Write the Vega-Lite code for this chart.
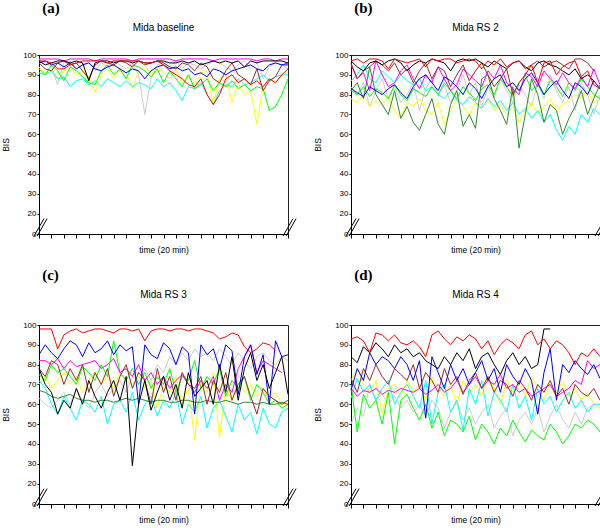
{
"$schema": "https://vega.github.io/schema/vega-lite/v6.json",
"padding": {"left": 1, "top": 0, "right": 2, "bottom": 0},
"config": {
 "font": "Liberation Sans",
 "view": {"stroke": "#222", "strokeWidth": 1},
 "axis": {"grid": false, "domainColor": "#000", "tickColor": "#000", "labelColor": "#000", "titleColor": "#000", "titleFontWeight": "normal", "titleFontSize": 8.5, "labelFontSize": 8, "titleFont": "Liberation Sans", "labelFont": "Liberation Sans", "labelOverlap": false},
 "title": {"fontSize": 10, "fontWeight": "normal", "color": "#000", "font": "Liberation Sans"}
},
"datasets": {
"a": [
{"t":0,"r":97,"k":97,"b":96,"m":98,"y":94,"c":91,"g":93,"n":96,"e":98},
{"t":1,"r":97,"k":95,"b":97,"m":98,"y":91,"c":90,"g":90,"n":93,"e":96},
{"t":2,"r":96,"k":96,"b":95,"m":98,"y":93,"c":92,"g":95,"n":92,"e":94},
{"t":3,"r":93,"k":97,"b":96,"m":98,"y":88,"c":88,"g":92,"n":96,"e":85},
{"t":4,"r":93,"k":97,"b":94,"m":97,"y":92,"c":89,"g":87,"n":97,"e":96},
{"t":5,"r":95,"k":96,"b":96,"m":98,"y":94,"c":84,"g":94,"n":95,"e":97},
{"t":6,"r":96,"k":97,"b":93,"m":98,"y":90,"c":87,"g":92,"n":96,"e":93},
{"t":7,"r":97,"k":96,"b":95,"m":98,"y":92,"c":88,"g":89,"n":92,"e":95},
{"t":8,"r":97,"k":87,"b":96,"m":98,"y":89,"c":85,"g":86,"n":88,"e":97},
{"t":9,"r":97,"k":96,"b":93,"m":97,"y":81,"c":87,"g":85,"n":95,"e":92},
{"t":10,"r":97,"k":97,"b":92,"m":98,"y":90,"c":84,"g":92,"n":97,"e":96},
{"t":11,"r":96,"k":97,"b":94,"m":98,"y":93,"c":88,"g":95,"n":96,"e":94},
{"t":12,"r":97,"k":96,"b":95,"m":98,"y":88,"c":86,"g":90,"n":95,"e":97},
{"t":13,"r":97,"k":97,"b":93,"m":98,"y":94,"c":84,"g":93,"n":97,"e":95},
{"t":14,"r":97,"k":97,"b":91,"m":98,"y":91,"c":87,"g":88,"n":96,"e":93},
{"t":15,"r":97,"k":96,"b":93,"m":97,"y":83,"c":84,"g":95,"n":94,"e":96},
{"t":16,"r":97,"k":97,"b":92,"m":98,"y":92,"c":86,"g":94,"n":97,"e":90},
{"t":17,"r":96,"k":96,"b":88,"m":98,"y":95,"c":85,"g":92,"n":95,"e":70},
{"t":18,"r":96,"k":96,"b":92,"m":98,"y":90,"c":83,"g":89,"n":96,"e":88},
{"t":19,"r":97,"k":97,"b":94,"m":98,"y":94,"c":88,"g":93,"n":97,"e":95},
{"t":20,"r":95,"k":97,"b":95,"m":98,"y":91,"c":84,"g":86,"n":96,"e":96},
{"t":21,"r":92,"k":96,"b":93,"m":98,"y":88,"c":86,"g":92,"n":94,"e":94},
{"t":22,"r":90,"k":96,"b":94,"m":97,"y":93,"c":82,"g":88,"n":93,"e":97},
{"t":23,"r":88,"k":97,"b":92,"m":98,"y":86,"c":77,"g":84,"n":96,"e":93},
{"t":24,"r":85,"k":96,"b":93,"m":98,"y":90,"c":84,"g":90,"n":95,"e":96},
{"t":25,"r":84,"k":97,"b":90,"m":98,"y":84,"c":83,"g":83,"n":92,"e":95},
{"t":26,"r":88,"k":95,"b":91,"m":98,"y":91,"c":86,"g":85,"n":96,"e":93},
{"t":27,"r":80,"k":96,"b":89,"m":98,"y":92,"c":80,"g":88,"n":94,"e":95},
{"t":28,"r":75,"k":97,"b":93,"m":97,"y":75,"c":75,"g":82,"n":88,"e":97},
{"t":29,"r":80,"k":96,"b":92,"m":98,"y":88,"c":82,"g":86,"n":86,"e":96},
{"t":30,"r":88,"k":97,"b":90,"m":98,"y":90,"c":85,"g":84,"n":92,"e":94},
{"t":31,"r":90,"k":96,"b":92,"m":98,"y":76,"c":84,"g":87,"n":96,"e":92},
{"t":32,"r":86,"k":97,"b":93,"m":98,"y":86,"c":88,"g":83,"n":90,"e":95},
{"t":33,"r":88,"k":94,"b":94,"m":98,"y":80,"c":85,"g":85,"n":88,"e":97},
{"t":34,"r":85,"k":97,"b":95,"m":98,"y":82,"c":86,"g":82,"n":85,"e":93},
{"t":35,"r":87,"k":96,"b":93,"m":97,"y":65,"c":88,"g":84,"n":93,"e":96},
{"t":36,"r":84,"k":97,"b":92,"m":98,"y":84,"c":90,"g":83,"n":82,"e":88},
{"t":37,"r":88,"k":97,"b":95,"m":98,"y":88,"c":87,"g":72,"n":87,"e":94},
{"t":38,"r":86,"k":97,"b":96,"m":97,"y":86,"c":89,"g":74,"n":89,"e":96},
{"t":39,"r":90,"k":97,"b":95,"m":98,"y":90,"c":90,"g":80,"n":95,"e":95},
{"t":40,"r":93,"k":96,"b":95,"m":98,"y":91,"c":90,"g":88,"n":96,"e":93}
],
"b": [
{"t":0,"r":97,"k":97,"b":83,"m":95,"y":78,"c":87,"g":82,"d":82,"n":96,"e":84},
{"t":1,"r":98,"k":94,"b":81,"m":88,"y":76,"c":90,"g":80,"d":86,"n":88,"e":80},
{"t":2,"r":96,"k":92,"b":79,"m":91,"y":80,"c":95,"g":84,"d":78,"n":92,"e":86},
{"t":3,"r":98,"k":96,"b":84,"m":82,"y":74,"c":88,"g":79,"d":94,"n":94,"e":74},
{"t":4,"r":98,"k":97,"b":82,"m":97,"y":77,"c":86,"g":83,"d":80,"n":97,"e":82},
{"t":5,"r":97,"k":95,"b":80,"m":90,"y":75,"c":92,"g":81,"d":75,"n":95,"e":88},
{"t":6,"r":93,"k":97,"b":83,"m":84,"y":79,"c":89,"g":78,"d":70,"n":92,"e":78},
{"t":7,"r":98,"k":98,"b":85,"m":86,"y":72,"c":86,"g":85,"d":82,"n":96,"e":84},
{"t":8,"r":97,"k":96,"b":81,"m":92,"y":68,"c":90,"g":80,"d":68,"n":90,"e":76},
{"t":9,"r":96,"k":92,"b":78,"m":95,"y":76,"c":87,"g":77,"d":74,"n":93,"e":80},
{"t":10,"r":97,"k":95,"b":84,"m":88,"y":74,"c":85,"g":83,"d":66,"n":86,"e":86},
{"t":11,"r":98,"k":97,"b":88,"m":83,"y":78,"c":88,"g":81,"d":62,"n":92,"e":72},
{"t":12,"r":94,"k":96,"b":90,"m":90,"y":72,"c":82,"g":79,"d":70,"n":96,"e":83},
{"t":13,"r":98,"k":98,"b":86,"m":86,"y":70,"c":84,"g":84,"d":78,"n":88,"e":88},
{"t":14,"r":97,"k":97,"b":82,"m":94,"y":76,"c":80,"g":80,"d":65,"n":94,"e":79},
{"t":15,"r":98,"k":96,"b":89,"m":88,"y":65,"c":78,"g":86,"d":60,"n":92,"e":85},
{"t":16,"r":98,"k":92,"b":87,"m":82,"y":72,"c":82,"g":82,"d":75,"n":84,"e":76},
{"t":17,"r":96,"k":97,"b":84,"m":85,"y":78,"c":77,"g":78,"d":82,"n":90,"e":82},
{"t":18,"r":97,"k":98,"b":80,"m":93,"y":74,"c":75,"g":84,"d":64,"n":95,"e":90},
{"t":19,"r":98,"k":97,"b":86,"m":90,"y":70,"c":79,"g":81,"d":70,"n":87,"e":80},
{"t":20,"r":97,"k":98,"b":83,"m":87,"y":76,"c":76,"g":77,"d":63,"n":92,"e":86},
{"t":21,"r":93,"k":96,"b":78,"m":84,"y":73,"c":73,"g":83,"d":88,"n":96,"e":74},
{"t":22,"r":97,"k":94,"b":84,"m":92,"y":78,"c":78,"g":85,"d":90,"n":90,"e":84},
{"t":23,"r":95,"k":97,"b":88,"m":88,"y":72,"c":74,"g":80,"d":78,"n":84,"e":78},
{"t":24,"r":98,"k":95,"b":90,"m":95,"y":75,"c":77,"g":88,"d":72,"n":88,"e":88},
{"t":25,"r":94,"k":93,"b":84,"m":86,"y":70,"c":72,"g":84,"d":65,"n":93,"e":82},
{"t":26,"r":96,"k":96,"b":86,"m":83,"y":74,"c":76,"g":79,"d":84,"n":80,"e":76},
{"t":27,"r":97,"k":97,"b":82,"m":80,"y":66,"c":70,"g":86,"d":53,"n":86,"e":85},
{"t":28,"r":93,"k":94,"b":88,"m":91,"y":72,"c":73,"g":90,"d":70,"n":90,"e":80},
{"t":29,"r":95,"k":92,"b":91,"m":89,"y":76,"c":68,"g":82,"d":88,"n":95,"e":74},
{"t":30,"r":86,"k":96,"b":86,"m":84,"y":70,"c":72,"g":85,"d":80,"n":97,"e":86},
{"t":31,"r":96,"k":97,"b":80,"m":92,"y":74,"c":66,"g":80,"d":66,"n":94,"e":78},
{"t":32,"r":97,"k":95,"b":84,"m":88,"y":78,"c":70,"g":87,"d":75,"n":96,"e":90},
{"t":33,"r":90,"k":94,"b":87,"m":85,"y":72,"c":62,"g":84,"d":72,"n":97,"e":82},
{"t":34,"r":94,"k":92,"b":82,"m":91,"y":75,"c":57,"g":79,"d":60,"n":95,"e":76},
{"t":35,"r":96,"k":90,"b":78,"m":86,"y":77,"c":64,"g":86,"d":68,"n":93,"e":84},
{"t":36,"r":97,"k":93,"b":86,"m":83,"y":80,"c":60,"g":82,"d":74,"n":98,"e":72},
{"t":37,"r":89,"k":88,"b":84,"m":89,"y":78,"c":70,"g":88,"d":82,"n":98,"e":86},
{"t":38,"r":92,"k":90,"b":80,"m":84,"y":82,"c":66,"g":84,"d":70,"n":96,"e":80},
{"t":39,"r":85,"k":87,"b":87,"m":93,"y":76,"c":73,"g":80,"d":78,"n":92,"e":70},
{"t":40,"r":83,"k":null,"b":83,"m":85,"y":78,"c":70,"g":78,"d":85,"n":null,"e":80}
],
"c": [
{"t":0,"r":98,"k":78,"b":85,"m":82,"y":70,"c":72,"g":75,"d":67,"n":78,"e":63},
{"t":1,"r":98,"k":70,"b":90,"m":82,"y":74,"c":68,"g":72,"d":66,"n":74,"e":60},
{"t":2,"r":98,"k":66,"b":86,"m":80,"y":68,"c":60,"g":80,"d":64,"n":82,"e":58},
{"t":3,"r":88,"k":55,"b":83,"m":83,"y":72,"c":55,"g":76,"d":63,"n":80,"e":62},
{"t":4,"r":95,"k":62,"b":88,"m":78,"y":76,"c":64,"g":78,"d":64,"n":70,"e":66},
{"t":5,"r":97,"k":58,"b":92,"m":82,"y":70,"c":58,"g":74,"d":65,"n":78,"e":60},
{"t":6,"r":98,"k":68,"b":90,"m":79,"y":74,"c":52,"g":70,"d":63,"n":72,"e":68},
{"t":7,"r":96,"k":60,"b":84,"m":80,"y":66,"c":62,"g":79,"d":62,"n":80,"e":62},
{"t":8,"r":97,"k":72,"b":91,"m":81,"y":72,"c":60,"g":76,"d":62,"n":66,"e":58},
{"t":9,"r":98,"k":64,"b":86,"m":82,"y":76,"c":56,"g":72,"d":61,"n":76,"e":66},
{"t":10,"r":98,"k":58,"b":88,"m":78,"y":70,"c":64,"g":80,"d":62,"n":70,"e":70},
{"t":11,"r":97,"k":66,"b":92,"m":80,"y":74,"c":50,"g":74,"d":62,"n":78,"e":64},
{"t":12,"r":96,"k":72,"b":85,"m":83,"y":68,"c":60,"g":92,"d":61,"n":64,"e":68},
{"t":13,"r":98,"k":62,"b":90,"m":76,"y":76,"c":62,"g":76,"d":62,"n":74,"e":72},
{"t":14,"r":98,"k":74,"b":87,"m":78,"y":72,"c":56,"g":72,"d":63,"n":80,"e":66},
{"t":15,"r":97,"k":29,"b":89,"m":74,"y":70,"c":66,"g":78,"d":62,"n":68,"e":74},
{"t":16,"r":98,"k":60,"b":60,"m":80,"y":74,"c":52,"g":70,"d":63,"n":76,"e":70},
{"t":17,"r":92,"k":72,"b":90,"m":72,"y":68,"c":60,"g":76,"d":62,"n":72,"e":78},
{"t":18,"r":97,"k":57,"b":85,"m":76,"y":72,"c":64,"g":68,"d":61,"n":60,"e":72},
{"t":19,"r":98,"k":66,"b":83,"m":70,"y":58,"c":54,"g":74,"d":62,"n":78,"e":80},
{"t":20,"r":98,"k":74,"b":91,"m":74,"y":70,"c":62,"g":70,"d":62,"n":66,"e":76},
{"t":21,"r":97,"k":62,"b":88,"m":68,"y":66,"c":58,"g":78,"d":61,"n":74,"e":84},
{"t":22,"r":98,"k":70,"b":80,"m":72,"y":74,"c":66,"g":66,"d":61,"n":62,"e":80},
{"t":23,"r":98,"k":58,"b":89,"m":75,"y":60,"c":50,"g":74,"d":62,"n":76,"e":86},
{"t":24,"r":97,"k":76,"b":86,"m":70,"y":68,"c":60,"g":72,"d":62,"n":70,"e":82},
{"t":25,"r":98,"k":64,"b":55,"m":66,"y":42,"c":56,"g":82,"d":61,"n":68,"e":88},
{"t":26,"r":98,"k":68,"b":90,"m":72,"y":72,"c":64,"g":68,"d":61,"n":74,"e":84},
{"t":27,"r":97,"k":72,"b":85,"m":68,"y":66,"c":48,"g":74,"d":62,"n":60,"e":86},
{"t":28,"r":96,"k":60,"b":88,"m":74,"y":76,"c":58,"g":70,"d":61,"n":72,"e":82},
{"t":29,"r":93,"k":80,"b":78,"m":62,"y":43,"c":62,"g":78,"d":61,"n":66,"e":88},
{"t":30,"r":94,"k":66,"b":90,"m":70,"y":68,"c":54,"g":64,"d":62,"n":76,"e":84},
{"t":31,"r":96,"k":84,"b":87,"m":66,"y":62,"c":46,"g":72,"d":61,"n":62,"e":80},
{"t":32,"r":95,"k":62,"b":65,"m":78,"y":72,"c":60,"g":68,"d":60,"n":70,"e":86},
{"t":33,"r":89,"k":78,"b":84,"m":84,"y":66,"c":52,"g":74,"d":61,"n":74,"e":82},
{"t":34,"r":86,"k":86,"b":90,"m":90,"y":70,"c":56,"g":62,"d":61,"n":64,"e":78},
{"t":35,"r":88,"k":72,"b":75,"m":76,"y":64,"c":45,"g":70,"d":60,"n":55,"e":84},
{"t":36,"r":91,"k":80,"b":85,"m":82,"y":68,"c":58,"g":66,"d":61,"n":68,"e":86},
{"t":37,"r":90,"k":68,"b":60,"m":80,"y":62,"c":50,"g":60,"d":60,"n":64,"e":82},
{"t":38,"r":87,"k":76,"b":92,"m":78,"y":66,"c":48,"g":62,"d":60,"n":62,"e":80},
{"t":39,"r":null,"k":84,"b":84,"m":76,"y":60,"c":56,"g":58,"d":61,"n":60,"e":84},
{"t":40,"r":null,"k":65,"b":85,"m":null,"y":60,"c":58,"g":60,"d":60,"n":62,"e":82}
],
"d": [
{"t":0,"r":93,"k":84,"b":67,"m":68,"y":72,"c":63,"g":70,"n":73,"e":50},
{"t":1,"r":94,"k":81,"b":78,"m":64,"y":78,"c":73,"g":46,"n":66,"e":58},
{"t":2,"r":92,"k":89,"b":72,"m":67,"y":70,"c":66,"g":65,"n":78,"e":54},
{"t":3,"r":86,"k":86,"b":86,"m":66,"y":66,"c":70,"g":58,"n":72,"e":70},
{"t":4,"r":96,"k":91,"b":80,"m":68,"y":72,"c":62,"g":62,"n":80,"e":62},
{"t":5,"r":95,"k":88,"b":84,"m":65,"y":55,"c":68,"g":50,"n":74,"e":65},
{"t":6,"r":92,"k":84,"b":82,"m":67,"y":68,"c":72,"g":66,"n":70,"e":60},
{"t":7,"r":95,"k":90,"b":78,"m":66,"y":70,"c":60,"g":40,"n":78,"e":64},
{"t":8,"r":91,"k":86,"b":84,"m":68,"y":64,"c":66,"g":62,"n":75,"e":58},
{"t":9,"r":90,"k":88,"b":80,"m":67,"y":72,"c":70,"g":65,"n":72,"e":62},
{"t":10,"r":92,"k":84,"b":72,"m":66,"y":66,"c":64,"g":58,"n":80,"e":56},
{"t":11,"r":89,"k":86,"b":82,"m":68,"y":70,"c":58,"g":52,"n":68,"e":60},
{"t":12,"r":84,"k":82,"b":53,"m":65,"y":62,"c":72,"g":60,"n":76,"e":54},
{"t":13,"r":95,"k":80,"b":84,"m":67,"y":74,"c":50,"g":48,"n":72,"e":62},
{"t":14,"r":97,"k":78,"b":76,"m":70,"y":68,"c":66,"g":56,"n":66,"e":58},
{"t":15,"r":93,"k":84,"b":68,"m":66,"y":64,"c":70,"g":44,"n":78,"e":48},
{"t":16,"r":90,"k":80,"b":80,"m":68,"y":70,"c":56,"g":52,"n":70,"e":56},
{"t":17,"r":94,"k":86,"b":72,"m":72,"y":60,"c":62,"g":50,"n":74,"e":62},
{"t":18,"r":92,"k":82,"b":78,"m":66,"y":72,"c":47,"g":46,"n":65,"e":52},
{"t":19,"r":95,"k":88,"b":70,"m":70,"y":66,"c":68,"g":54,"n":72,"e":58},
{"t":20,"r":93,"k":78,"b":76,"m":74,"y":70,"c":60,"g":42,"n":76,"e":50},
{"t":21,"r":88,"k":84,"b":82,"m":68,"y":64,"c":72,"g":50,"n":68,"e":56},
{"t":22,"r":92,"k":86,"b":72,"m":72,"y":74,"c":54,"g":46,"n":74,"e":60},
{"t":23,"r":85,"k":80,"b":78,"m":70,"y":68,"c":66,"g":40,"n":66,"e":48},
{"t":24,"r":90,"k":75,"b":66,"m":75,"y":60,"c":62,"g":48,"n":72,"e":54},
{"t":25,"r":93,"k":82,"b":80,"m":68,"y":72,"c":56,"g":44,"n":70,"e":58},
{"t":26,"r":91,"k":86,"b":74,"m":70,"y":66,"c":70,"g":52,"n":64,"e":44},
{"t":27,"r":88,"k":80,"b":70,"m":66,"y":70,"c":58,"g":46,"n":72,"e":52},
{"t":28,"r":95,"k":84,"b":78,"m":68,"y":64,"c":64,"g":41,"n":68,"e":56},
{"t":29,"r":97,"k":78,"b":72,"m":64,"y":74,"c":52,"g":47,"n":62,"e":50},
{"t":30,"r":90,"k":80,"b":55,"m":66,"y":68,"c":68,"g":44,"n":70,"e":58},
{"t":31,"r":93,"k":98,"b":76,"m":68,"y":62,"c":60,"g":42,"n":66,"e":46},
{"t":32,"r":88,"k":98,"b":88,"m":70,"y":70,"c":64,"g":50,"n":72,"e":54},
{"t":33,"r":92,"k":null,"b":62,"m":64,"y":66,"c":56,"g":46,"n":64,"e":60},
{"t":34,"r":90,"k":null,"b":80,"m":66,"y":72,"c":62,"g":40,"n":68,"e":52},
{"t":35,"r":86,"k":null,"b":76,"m":68,"y":64,"c":66,"g":44,"n":60,"e":48},
{"t":36,"r":80,"k":null,"b":82,"m":72,"y":68,"c":58,"g":50,"n":70,"e":56},
{"t":37,"r":86,"k":null,"b":78,"m":70,"y":62,"c":62,"g":48,"n":66,"e":50},
{"t":38,"r":84,"k":null,"b":75,"m":82,"y":66,"c":56,"g":52,"n":64,"e":58},
{"t":39,"r":88,"k":null,"b":80,"m":78,"y":60,"c":60,"g":50,"n":68,"e":60},
{"t":40,"r":84,"k":null,"b":73,"m":80,"y":58,"c":60,"g":46,"n":62,"e":58}
]
},
"spacing": 12,
"vconcat": [
{"spacing": 15, "hconcat": [
 {"title": {"text": "(a)", "anchor": "start", "dx": 41, "offset": 7, "font": "Liberation Serif", "fontSize": 15, "fontWeight": "bold"},
  "vconcat": [{
   "title": {"text": "Mida baseline", "offset": 18},
   "width": 249, "height": 179,
   "layer": [
    {"data": {"name": "a"}, "transform": [{"fold": ["e","y","c","g","d","m","n","b","k","r"], "as": ["s","v"]}],
     "mark": {"type": "line", "strokeWidth": 1},
     "encoding": {
      "x": {"field": "t", "type": "quantitative", "scale": {"domain": [0, 40], "nice": false, "zero": false}, "axis": {"title": "time (20 min)", "values": [0,2,4,6,8,10,12,14,16,18,20,22,24,26,28,30,32,34,36,38,40], "tickCount": 21, "labels": false, "tickSize": 4, "titlePadding": 7}},
      "y": {"field": "v", "type": "quantitative", "scale": {"domain": [0, 20, 100], "range": [179, 158.5, 0], "nice": false, "zero": false}, "axis": {"title": "BIS", "values": [0,20,30,40,50,60,70,80,90,100], "tickCount": 10, "labelOverlap": false, "tickSize": 2, "labelPadding": 1, "titlePadding": 12}},
      "color": {"field": "s", "type": "nominal", "legend": null, "scale": {"domain": ["r","k","b","m","y","c","g","d","n","e"], "range": ["#ff0000","#000000","#0000ff","#ff00ff","#ffff00","#00ffff","#00ff00","#2e8b2e","#9b2b2b","#cccccc"]}}
     }},
    {"data": {"values": [{}]}, "mark": {"type": "rule", "color": "#000"}, "encoding": {"x": {"datum": -0.8}, "x2": {"datum": 0.8}, "y": {"datum": -2}, "y2": {"datum": 15}}},
    {"data": {"values": [{}]}, "mark": {"type": "rule", "color": "#000"}, "encoding": {"x": {"datum": -0.3}, "x2": {"datum": 1.3}, "y": {"datum": -2}, "y2": {"datum": 15}}},
    {"data": {"values": [{}]}, "mark": {"type": "rule", "color": "#000"}, "encoding": {"x": {"datum": 39.2}, "x2": {"datum": 40.8}, "y": {"datum": -2}, "y2": {"datum": 15}}},
    {"data": {"values": [{}]}, "mark": {"type": "rule", "color": "#000"}, "encoding": {"x": {"datum": 39.7}, "x2": {"datum": 41.3}, "y": {"datum": -2}, "y2": {"datum": 15}}}
   ]
  }]
 },
 {"title": {"text": "(b)", "anchor": "start", "dx": 41, "offset": 7, "font": "Liberation Serif", "fontSize": 15, "fontWeight": "bold"},
  "vconcat": [{
   "title": {"text": "Mida RS 2", "offset": 18},
   "width": 249, "height": 179,
   "layer": [
    {"data": {"name": "b"}, "transform": [{"fold": ["e","y","c","g","d","m","n","b","k","r"], "as": ["s","v"]}],
     "mark": {"type": "line", "strokeWidth": 1},
     "encoding": {
      "x": {"field": "t", "type": "quantitative", "scale": {"domain": [0, 40], "nice": false, "zero": false}, "axis": {"title": "time (20 min)", "values": [0,2,4,6,8,10,12,14,16,18,20,22,24,26,28,30,32,34,36,38,40], "tickCount": 21, "labels": false, "tickSize": 4, "titlePadding": 7}},
      "y": {"field": "v", "type": "quantitative", "scale": {"domain": [0, 20, 100], "range": [179, 158.5, 0], "nice": false, "zero": false}, "axis": {"title": "BIS", "values": [0,20,30,40,50,60,70,80,90,100], "tickCount": 10, "labelOverlap": false, "tickSize": 2, "labelPadding": 1, "titlePadding": 12}},
      "color": {"field": "s", "type": "nominal", "legend": null, "scale": {"domain": ["r","k","b","m","y","c","g","d","n","e"], "range": ["#ff0000","#000000","#0000ff","#ff00ff","#ffff00","#00ffff","#00ff00","#2e8b2e","#9b2b2b","#cccccc"]}}
     }},
    {"data": {"values": [{}]}, "mark": {"type": "rule", "color": "#000"}, "encoding": {"x": {"datum": -0.8}, "x2": {"datum": 0.8}, "y": {"datum": -2}, "y2": {"datum": 15}}},
    {"data": {"values": [{}]}, "mark": {"type": "rule", "color": "#000"}, "encoding": {"x": {"datum": -0.3}, "x2": {"datum": 1.3}, "y": {"datum": -2}, "y2": {"datum": 15}}},
    {"data": {"values": [{}]}, "mark": {"type": "rule", "color": "#000"}, "encoding": {"x": {"datum": 39.2}, "x2": {"datum": 40.8}, "y": {"datum": -2}, "y2": {"datum": 15}}},
    {"data": {"values": [{}]}, "mark": {"type": "rule", "color": "#000"}, "encoding": {"x": {"datum": 39.7}, "x2": {"datum": 41.3}, "y": {"datum": -2}, "y2": {"datum": 15}}}
   ]
  }]
 }
]},
{"spacing": 15, "hconcat": [
 {"title": {"text": "(c)", "anchor": "start", "dx": 41, "offset": 7, "font": "Liberation Serif", "fontSize": 15, "fontWeight": "bold"},
  "vconcat": [{
   "title": {"text": "Mida RS 3", "offset": 21},
   "width": 249, "height": 179,
   "layer": [
    {"data": {"name": "c"}, "transform": [{"fold": ["e","y","c","g","d","m","n","b","k","r"], "as": ["s","v"]}],
     "mark": {"type": "line", "strokeWidth": 1},
     "encoding": {
      "x": {"field": "t", "type": "quantitative", "scale": {"domain": [0, 40], "nice": false, "zero": false}, "axis": {"title": "time (20 min)", "values": [0,2,4,6,8,10,12,14,16,18,20,22,24,26,28,30,32,34,36,38,40], "tickCount": 21, "labels": false, "tickSize": 4, "titlePadding": 7}},
      "y": {"field": "v", "type": "quantitative", "scale": {"domain": [0, 20, 100], "range": [179, 158.5, 0], "nice": false, "zero": false}, "axis": {"title": "BIS", "values": [0,20,30,40,50,60,70,80,90,100], "tickCount": 10, "labelOverlap": false, "tickSize": 2, "labelPadding": 1, "titlePadding": 12}},
      "color": {"field": "s", "type": "nominal", "legend": null, "scale": {"domain": ["r","k","b","m","y","c","g","d","n","e"], "range": ["#ff0000","#000000","#0000ff","#ff00ff","#ffff00","#00ffff","#00ff00","#2e8b2e","#9b2b2b","#cccccc"]}}
     }},
    {"data": {"values": [{}]}, "mark": {"type": "rule", "color": "#000"}, "encoding": {"x": {"datum": -0.8}, "x2": {"datum": 0.8}, "y": {"datum": -2}, "y2": {"datum": 15}}},
    {"data": {"values": [{}]}, "mark": {"type": "rule", "color": "#000"}, "encoding": {"x": {"datum": -0.3}, "x2": {"datum": 1.3}, "y": {"datum": -2}, "y2": {"datum": 15}}},
    {"data": {"values": [{}]}, "mark": {"type": "rule", "color": "#000"}, "encoding": {"x": {"datum": 39.2}, "x2": {"datum": 40.8}, "y": {"datum": -2}, "y2": {"datum": 15}}},
    {"data": {"values": [{}]}, "mark": {"type": "rule", "color": "#000"}, "encoding": {"x": {"datum": 39.7}, "x2": {"datum": 41.3}, "y": {"datum": -2}, "y2": {"datum": 15}}}
   ]
  }]
 },
 {"title": {"text": "(d)", "anchor": "start", "dx": 41, "offset": 7, "font": "Liberation Serif", "fontSize": 15, "fontWeight": "bold"},
  "vconcat": [{
   "title": {"text": "Mida RS 4", "offset": 21},
   "width": 249, "height": 179,
   "layer": [
    {"data": {"name": "d"}, "transform": [{"fold": ["e","y","c","g","d","m","n","b","k","r"], "as": ["s","v"]}],
     "mark": {"type": "line", "strokeWidth": 1},
     "encoding": {
      "x": {"field": "t", "type": "quantitative", "scale": {"domain": [0, 40], "nice": false, "zero": false}, "axis": {"title": "time (20 min)", "values": [0,2,4,6,8,10,12,14,16,18,20,22,24,26,28,30,32,34,36,38,40], "tickCount": 21, "labels": false, "tickSize": 4, "titlePadding": 7}},
      "y": {"field": "v", "type": "quantitative", "scale": {"domain": [0, 20, 100], "range": [179, 158.5, 0], "nice": false, "zero": false}, "axis": {"title": "BIS", "values": [0,20,30,40,50,60,70,80,90,100], "tickCount": 10, "labelOverlap": false, "tickSize": 2, "labelPadding": 1, "titlePadding": 12}},
      "color": {"field": "s", "type": "nominal", "legend": null, "scale": {"domain": ["r","k","b","m","y","c","g","d","n","e"], "range": ["#ff0000","#000000","#0000ff","#ff00ff","#ffff00","#00ffff","#00ff00","#2e8b2e","#9b2b2b","#cccccc"]}}
     }},
    {"data": {"values": [{}]}, "mark": {"type": "rule", "color": "#000"}, "encoding": {"x": {"datum": -0.8}, "x2": {"datum": 0.8}, "y": {"datum": -2}, "y2": {"datum": 15}}},
    {"data": {"values": [{}]}, "mark": {"type": "rule", "color": "#000"}, "encoding": {"x": {"datum": -0.3}, "x2": {"datum": 1.3}, "y": {"datum": -2}, "y2": {"datum": 15}}},
    {"data": {"values": [{}]}, "mark": {"type": "rule", "color": "#000"}, "encoding": {"x": {"datum": 39.2}, "x2": {"datum": 40.8}, "y": {"datum": -2}, "y2": {"datum": 15}}},
    {"data": {"values": [{}]}, "mark": {"type": "rule", "color": "#000"}, "encoding": {"x": {"datum": 39.7}, "x2": {"datum": 41.3}, "y": {"datum": -2}, "y2": {"datum": 15}}}
   ]
  }]
 }
]}
]
}
